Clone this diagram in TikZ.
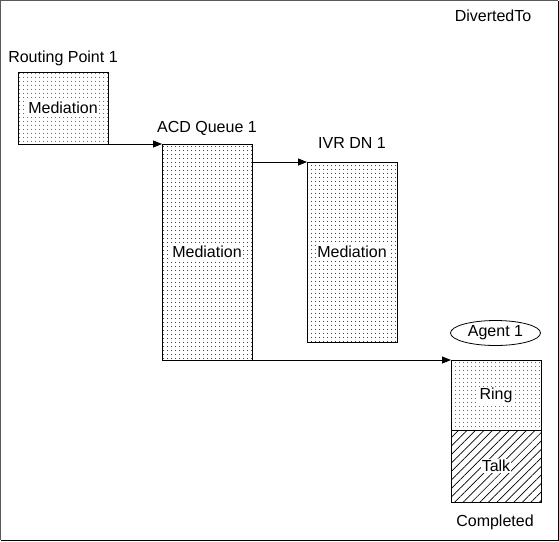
\documentclass[tikz,border=0pt]{standalone}
\usepackage{fontspec}
\setmainfont{Liberation Sans}
\usetikzlibrary{patterns.meta,arrows.meta,shapes.geometric}
\begin{document}
\begin{tikzpicture}[x=1pt,y=-1pt,
  every node/.style={font=\fontsize{16}{19}\selectfont},
  dotbox/.style={draw=black,line width=0.8pt,pattern={Dots[distance=4pt,radius=0.6pt]},
    minimum width=90pt,anchor=north west,inner sep=0pt,outer sep=0pt},
  hatchbox/.style={draw=black,line width=0.8pt,pattern={Lines[angle=45,distance=6pt,line width=0.7pt]},
    minimum width=90pt,anchor=north west,inner sep=0pt,outer sep=0pt},
  inlabel/.style={fill=white,inner sep=1pt},
  lbl/.style={anchor=base},
  arr/.style={line width=0.8pt,-{Triangle[length=9pt,width=7pt]}}]
\useasboundingbox (0,0) rectangle (559,541);
\draw[gray!70!black,line width=1pt] (0.5,540) -- (0.5,0.5) -- (558,0.5);
\draw[black,line width=1pt] (558,0.5) -- (558,540) -- (0.5,540);
% boxes
\node[dotbox,minimum height=72pt] (rp) at (18,72) {};
\node[dotbox,minimum height=216pt] (acd) at (162,144) {};
\node[dotbox,minimum height=180pt] (ivr) at (307,162) {};
\node[dotbox,minimum height=70pt] (ring) at (451,360) {};
\node[hatchbox,minimum height=72pt] (talk) at (451,430) {};
\node[draw,ellipse,line width=0.8pt,minimum width=90pt,minimum height=25pt,inner sep=0pt] (agent) at (495.5,333) {Agent 1};
% inside labels
\node[inlabel] (rpm) at (rp.center) {Mediation};
\node[inlabel] (acdm) at (acd.center) {Mediation};
\node[inlabel] (ivrm) at (ivr.center) {Mediation};
\node[inlabel] (ringl) at (ring.center) {Ring};
\node[inlabel] (talkl) at (talk.center) {Talk};
% titles
\node[lbl] (rpt) at (63,62) {Routing Point 1};
\node[lbl] (acdt) at (207,132) {ACD Queue 1};
\node[lbl] (ivrt) at (352,148.5) {IVR DN 1};
\node[lbl] (div) at (493,21.5) {DivertedTo};
\node[lbl] (comp) at (495,526.5) {Completed};
% arrows
\draw[arr] (rp.south east) -- (acd.north west);
\draw[arr] (acd.north east |- ivr.north west) -- (ivr.north west);
\draw[arr] (acd.south east) -- (ring.north west);
\end{tikzpicture}
\end{document}
